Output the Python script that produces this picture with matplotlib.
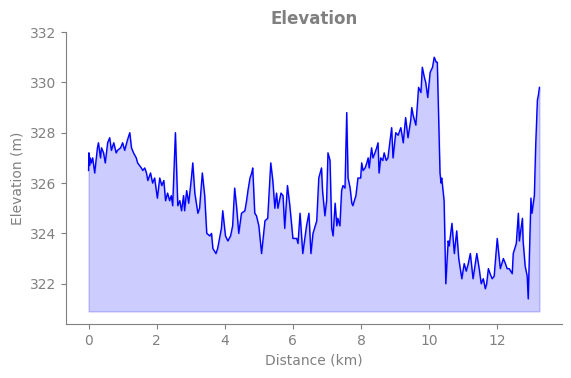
import numpy as np
import matplotlib
matplotlib.use("Agg")
import matplotlib.pyplot as plt

# track: distance (km) and elevation (m)
distance_km = [
    0.00, 0.01, 0.03, 0.05, 0.08, 0.12, 0.18, 0.26, 0.29, 0.35, 0.38, 0.44, 0.49,
    0.56, 0.62, 0.67, 0.74, 0.81, 0.85, 0.94, 1.00, 1.06, 1.14, 1.21, 1.26, 1.32,
    1.40, 1.44, 1.55, 1.59, 1.65, 1.70, 1.74, 1.82, 1.88, 1.94, 2.02, 2.09, 2.15,
    2.21, 2.26, 2.32, 2.38, 2.43, 2.47, 2.55, 2.62, 2.68, 2.73, 2.79, 2.82, 2.88,
    2.94, 3.02, 3.06, 3.12, 3.21, 3.26, 3.34, 3.41, 3.47, 3.56, 3.61, 3.65, 3.74,
    3.79, 3.90, 3.94, 4.02, 4.09, 4.17, 4.23, 4.29, 4.35, 4.41, 4.49, 4.59, 4.64,
    4.68, 4.74, 4.79, 4.82, 4.88, 4.93, 5.00, 5.08, 5.18, 5.26, 5.35, 5.41, 5.47,
    5.52, 5.56, 5.65, 5.71, 5.76, 5.84, 5.91, 6.00, 6.11, 6.15, 6.21, 6.29, 6.40,
    6.47, 6.53, 6.59, 6.70, 6.76, 6.84, 6.87, 6.94, 6.99, 7.03, 7.09, 7.14, 7.18,
    7.24, 7.29, 7.32, 7.38, 7.43, 7.47, 7.53, 7.58, 7.62, 7.68, 7.73, 7.76, 7.85,
    7.91, 7.99, 8.02, 8.06, 8.12, 8.17, 8.21, 8.24, 8.31, 8.35, 8.41, 8.46, 8.50,
    8.53, 8.58, 8.64, 8.68, 8.74, 8.79, 8.90, 8.94, 9.02, 9.09, 9.17, 9.24, 9.31,
    9.38, 9.46, 9.49, 9.53, 9.61, 9.66, 9.69, 9.76, 9.80, 9.86, 9.90, 9.96, 10.03,
    10.10, 10.15, 10.21, 10.24, 10.32, 10.35, 10.37, 10.44, 10.49, 10.56, 10.59,
    10.67, 10.74, 10.81, 10.87, 10.96, 11.03, 11.09, 11.15, 11.21, 11.29, 11.40,
    11.47, 11.53, 11.59, 11.65, 11.69, 11.74, 11.79, 11.85, 11.91, 12.00, 12.09,
    12.18, 12.24, 12.29, 12.35, 12.44, 12.47, 12.56, 12.62, 12.65, 12.74, 12.76,
    12.82, 12.88, 12.91, 12.99, 13.02, 13.09, 13.13, 13.18, 13.21, 13.24,
]
elevation_m = [
    326.5, 327.2, 326.7, 327.0, 326.8, 327.0, 326.4, 327.4, 327.6, 327.0, 327.4, 327.2, 326.8,
    327.6, 327.8, 327.3, 327.6, 327.2, 327.3, 327.4, 327.6, 327.3, 327.7, 328.0, 327.4, 327.2,
    327.0, 326.8, 326.6, 326.5, 326.6, 326.4, 326.1, 326.4, 326.0, 326.2, 325.4, 326.2, 325.9,
    326.1, 325.3, 325.6, 325.3, 325.5, 325.1, 328.0, 325.1, 325.3, 324.9, 325.5, 324.9, 325.7,
    325.2, 326.2, 326.8, 325.6, 324.8, 325.0, 326.4, 325.5, 324.0, 323.9, 324.0, 323.4, 323.2,
    323.4, 324.2, 324.9, 323.9, 323.7, 323.9, 324.3, 325.8, 325.0, 324.0, 324.8, 324.9, 325.3,
    325.7, 326.2, 326.4, 326.6, 324.8, 324.7, 324.3, 323.2, 324.5, 324.6, 326.8, 326.1, 325.0,
    325.6, 325.0, 325.6, 325.5, 324.2, 325.9, 325.1, 323.8, 323.8, 323.6, 324.8, 323.2, 324.3,
    324.8, 323.2, 324.0, 324.5, 326.2, 326.6, 325.7, 324.7, 325.3, 327.2, 326.9, 324.2, 323.9,
    325.2, 324.3, 324.6, 324.3, 325.7, 325.9, 325.8, 328.8, 326.2, 325.8, 325.2, 325.1, 325.5,
    326.2, 326.2, 326.8, 326.5, 326.6, 326.8, 327.0, 326.6, 327.4, 327.0, 327.2, 327.4, 327.6,
    326.4, 327.0, 326.9, 327.2, 326.9, 327.0, 328.2, 327.0, 328.0, 327.9, 328.2, 327.6, 328.6,
    327.8, 328.5, 329.0, 328.7, 328.3, 329.2, 329.8, 329.6, 330.6, 330.2, 330.0, 329.4, 330.4,
    330.6, 331.0, 330.8, 330.8, 326.4, 326.0, 326.2, 325.3, 322.0, 323.7, 323.5,
    324.4, 323.2, 324.1, 323.0, 322.2, 322.8, 322.5, 322.8, 323.2, 322.2, 323.2,
    322.6, 322.0, 322.2, 321.8, 322.0, 322.6, 322.4, 322.2, 322.3, 323.8, 322.6,
    323.0, 322.8, 322.6, 322.6, 322.4, 323.2, 323.6, 324.8, 323.7, 324.6, 323.7,
    322.7, 322.3, 321.4, 325.4, 324.8, 325.5, 327.5, 329.3, 329.5, 329.8,
]
y_ticks = [322, 324, 326, 328, 330, 332]

grey = "#808080"
plt.rcParams["font.family"] = ["DejaVu Sans"]

fig = plt.figure(figsize=(5.71, 3.78), dpi=100)
ax = fig.add_axes([0.1156, 0.1429, 0.8686, 0.7724])

x = np.array(distance_km)
y = np.array(elevation_m)
ax.plot(x, y, color="blue", lw=1)
ax.fill_between(x, y, y.min() - 0.5, color="blue", alpha=0.2)

ax.set_ylim(320.4, 332)
ax.set_yticks(y_ticks)
ax.set_title("Elevation", color=grey, fontweight="bold", fontsize=12)
ax.set_xlabel("Distance (km)", color=grey)
ax.set_ylabel("Elevation (m)", color=grey)

for side in ["top", "right"]:
    ax.spines[side].set_visible(False)
for side in ["left", "bottom"]:
    ax.spines[side].set_color(grey)
ax.tick_params(colors=grey)

fig.savefig("out.png", dpi=100)
